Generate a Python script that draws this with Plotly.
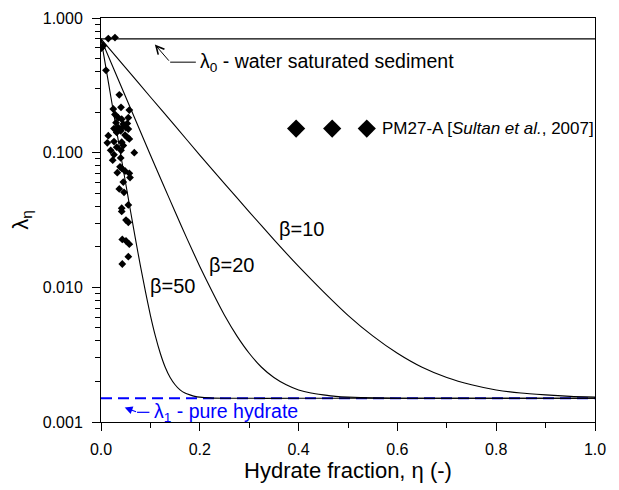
import numpy as np
import plotly.graph_objects as go

# ---------------- data ----------------
lambda0 = 0.70      # water saturated sediment
lambda1 = 0.0015    # pure hydrate

eta_b10 = [0.00, 0.05, 0.10, 0.15, 0.20, 0.25, 0.30, 0.35, 0.40, 0.45, 0.50,
           0.55, 0.60, 0.65, 0.70, 0.75, 0.80, 0.85, 0.90, 0.95, 1.00]
lam_b10 = [0.700, 0.426, 0.259, 0.158, 0.096, 0.059, 0.0364, 0.0226, 0.0143, 0.0093, 0.0062,
           0.00436, 0.00324, 0.00255, 0.00214, 0.00189, 0.00173, 0.00164, 0.00159, 0.00155, 0.00153]

eta_b20 = [0.000, 0.025, 0.050, 0.075, 0.100, 0.125, 0.150, 0.175, 0.200, 0.225, 0.250,
           0.275, 0.300, 0.325, 0.350, 0.375, 0.400, 0.425, 0.450, 0.475, 0.500, 0.550,
           0.600, 0.800, 1.000]
lam_b20 = [0.700, 0.426, 0.259, 0.158, 0.096, 0.059, 0.0364, 0.0226, 0.0143, 0.0093, 0.0062,
           0.00436, 0.00324, 0.00255, 0.00214, 0.00189, 0.00173, 0.00164, 0.00159, 0.00155, 0.00153, 0.00151,
           0.00150, 0.00150, 0.00150]

eta_b50 = [0.00, 0.01, 0.02, 0.03, 0.04, 0.05, 0.06, 0.07, 0.08, 0.09, 0.10,
           0.11, 0.12, 0.13, 0.14, 0.15, 0.16, 0.17, 0.18, 0.19, 0.20, 0.22,
           0.25, 0.40, 0.60, 0.80, 1.00]
lam_b50 = [0.700, 0.426, 0.259, 0.158, 0.096, 0.059, 0.0364, 0.0226, 0.0143, 0.0093, 0.0062,
           0.00436, 0.00324, 0.00255, 0.00214, 0.00189, 0.00173, 0.00164, 0.00159, 0.00155, 0.00153, 0.00151,
           0.00150, 0.00150, 0.00150, 0.00150, 0.00150]

# PM27-A measurements [Sultan et al., 2007]
eta_obs = [0.0148, 0.0283, 0.0047, 0.0010, 0.0101, 0.0370, 0.0405, 0.0249, 0.0573, 0.0283,
           0.0350, 0.0419, 0.0553, 0.0304, 0.0451, 0.0532, 0.0263, 0.0350, 0.0439, 0.0506,
           0.0553, 0.0148, 0.0318, 0.0399, 0.0486, 0.0532, 0.0573, 0.0263, 0.0128, 0.0419,
           0.0451, 0.0318, 0.0196, 0.0263, 0.0405, 0.0674, 0.0237, 0.0399, 0.0385, 0.0419,
           0.0330, 0.0486, 0.0573, 0.0587, 0.0451, 0.0370, 0.0466, 0.0553, 0.0419, 0.0419,
           0.0506, 0.0553, 0.0431, 0.0506, 0.0573, 0.0553, 0.0431]
lam_obs = [0.703, 0.715, 0.622, 0.598, 0.409, 0.269, 0.217, 0.211, 0.207, 0.192,
           0.182, 0.177, 0.182, 0.167, 0.163, 0.165, 0.151, 0.1536, 0.1554, 0.1536,
           0.1496, 0.1336, 0.1413, 0.1453, 0.1352, 0.130, 0.1264, 0.1208, 0.1183, 0.1195,
           0.113, 0.1099, 0.104, 0.0967, 0.104, 0.100, 0.0879, 0.0914, 0.0785, 0.0764,
           0.0710, 0.0731, 0.0703, 0.0653, 0.0605, 0.0538, 0.0508, 0.0409, 0.0387, 0.0366,
           0.0316, 0.0304, 0.0227, 0.0221, 0.0209, 0.0169, 0.0149]

legend_eta = [0.395, 0.468, 0.538]
legend_lam = [0.151, 0.151, 0.151]

x_ticks = [0.0, 0.2, 0.4, 0.6, 0.8, 1.0]
y_ticks = [0.001, 0.01, 0.1, 1.0]
y_ticktext = ["0.001", "0.010", "0.100", "1.000"]
y_minor = [m * 10.0 ** e for e in (-3, -2, -1) for m in range(2, 10)]

FONT = "Arial, Liberation Sans, sans-serif"

fig = go.Figure()

# reference lines
fig.add_trace(go.Scatter(x=[0, 1], y=[lambda0, lambda0], mode="lines",
                         line=dict(color="black", width=1.1), hoverinfo="skip"))
fig.add_trace(go.Scatter(x=[0, 1], y=[lambda1, lambda1], mode="lines",
                         line=dict(color="#0000FF", width=2, dash="11px,6px"), hoverinfo="skip"))

# model curves
for ex, ly in ((eta_b10, lam_b10), (eta_b20, lam_b20), (eta_b50, lam_b50)):
    fig.add_trace(go.Scatter(x=ex, y=ly, mode="lines",
                             line=dict(color="black", width=1.1, shape="spline", smoothing=0.6)))

# observations
fig.add_trace(go.Scatter(x=eta_obs, y=lam_obs, mode="markers",
                         marker=dict(symbol="diamond", size=6, color="black")))
fig.add_trace(go.Scatter(x=legend_eta, y=legend_lam, mode="markers",
                         marker=dict(symbol="diamond", size=14, color="black")))

# connector for lambda0 label
fig.add_trace(go.Scatter(x=[0.140, 0.192], y=[0.470, 0.470], mode="lines",
                         line=dict(color="black", width=1), hoverinfo="skip"))
# connector for lambda1 label
fig.add_trace(go.Scatter(x=[0.073, 0.098], y=[0.00118, 0.00118], mode="lines",
                         line=dict(color="#0000FF", width=1.2), hoverinfo="skip"))

L = np.log10
ann = [
    dict(x=0.109, y=L(0.636), ax=0.140, ay=L(0.470), axref="x", ayref="y",
         showarrow=True, arrowhead=5, arrowsize=1.6, arrowwidth=1, arrowcolor="black", text=""),
    dict(x=0.048, y=L(0.00128), ax=0.074, ay=L(0.00118), axref="x", ayref="y",
         showarrow=True, arrowhead=2, arrowsize=1.3, arrowwidth=1.2, arrowcolor="#0000FF", text=""),
    dict(x=0.196, y=L(0.470), text="λ<sub>0</sub> - water saturated sediment",
         xanchor="left", yanchor="middle", showarrow=False,
         font=dict(family=FONT, size=19.5, color="black")),
    dict(x=0.103, y=L(0.00118), text="λ<sub>1</sub> - pure hydrate",
         xanchor="left", yanchor="middle", showarrow=False,
         font=dict(family=FONT, size=19.5, color="#0000FF")),
    dict(x=0.565, y=L(0.151), text="PM27-A [<i>Sultan et al.</i>, 2007]",
         xanchor="left", yanchor="middle", showarrow=False,
         font=dict(family=FONT, size=17, color="black")),
    dict(x=0.356, y=L(0.0272), text="β=10", xanchor="left", yanchor="middle",
         showarrow=False, font=dict(family=FONT, size=20, color="black")),
    dict(x=0.215, y=L(0.0146), text="β=20", xanchor="left", yanchor="middle",
         showarrow=False, font=dict(family=FONT, size=20, color="black")),
    dict(x=0.095, y=L(0.0103), text="β=50", xanchor="left", yanchor="middle",
         showarrow=False, font=dict(family=FONT, size=20, color="black")),
]

fig.update_layout(
    width=619, height=490,
    margin=dict(l=101, r=24, t=10, b=68),
    paper_bgcolor="white", plot_bgcolor="white",
    showlegend=False,
    font=dict(family=FONT, size=16, color="black"),
    annotations=ann,
    xaxis=dict(
        range=[0, 1], tickvals=x_ticks, tickformat=".1f",
        ticks="outside", ticklen=8, tickcolor="black", tickwidth=1,
        ticklabelstandoff=5,
        showline=True, linecolor="black", linewidth=1, mirror=True,
        showgrid=False, zeroline=False,
        minor=dict(tickvals=[0.1, 0.3, 0.5, 0.7, 0.9], ticks="outside", ticklen=5,
                   tickcolor="black", showgrid=False),
        tickfont=dict(family=FONT, size=16),
        title=dict(text="Hydrate fraction, η (-)", font=dict(family=FONT, size=22), standoff=2),
    ),
    yaxis=dict(
        type="log", range=[-3, 0], tickvals=y_ticks, ticktext=y_ticktext,
        ticks="outside", ticklen=8, tickcolor="black", tickwidth=1,
        ticklabelstandoff=6,
        showline=True, linecolor="black", linewidth=1, mirror=True,
        showgrid=False, zeroline=False,
        minor=dict(tickvals=y_minor, ticks="outside", ticklen=5,
                   tickcolor="black", showgrid=False),
        tickfont=dict(family=FONT, size=16),
        title=dict(text="λ<sub>η</sub>", font=dict(family=FONT, size=22), standoff=8),
    ),
)

fig.write_html("out.html")
